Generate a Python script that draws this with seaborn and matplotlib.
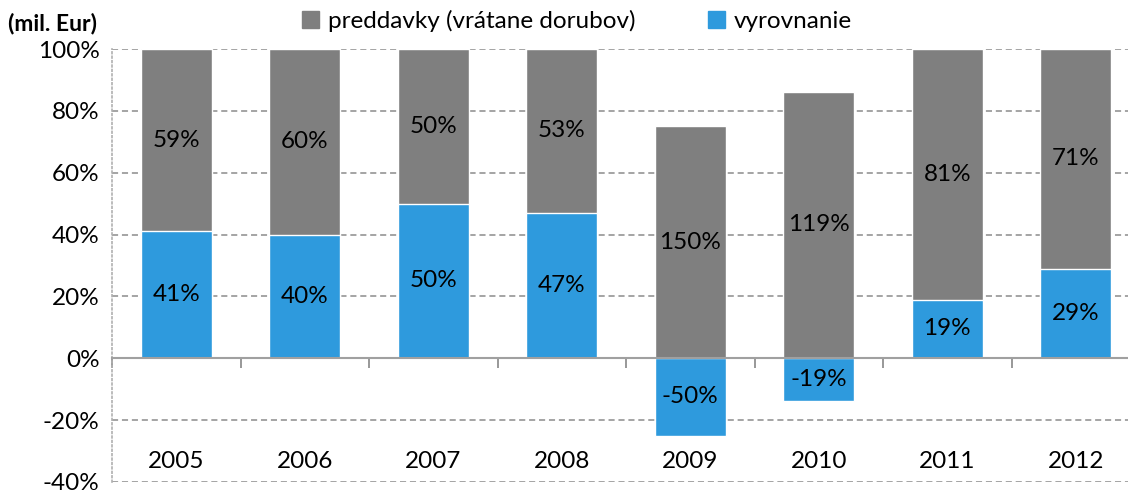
import seaborn as sns
import matplotlib.pyplot as plt
import pandas as pd
import numpy as np

# Данные
years = ['2005', '2006', '2007', '2008', '2009', '2010', '2011', '2012']
preddavky = [59, 60, 50, 53, 150, 119, 81, 71]  # preddavky (vrátane dorubov), %
vyrovnanie = [41, 40, 50, 47, -50, -19, 19, 29]  # vyrovnanie, %

grey = '#7f7f7f'
blue = '#2e9add'
fs = 17.5

# 100% skladaný graf ako v Exceli: výšky podľa súčtu absolútnych hodnôt
p = np.array(preddavky, dtype=float)
v = np.array(vyrovnanie, dtype=float)
total = np.abs(p) + np.abs(v)
v_h = v / total * 100
p_top = (p + np.clip(v, 0, None)) / total * 100

df = pd.DataFrame({'rok': years, 'p_top': p_top, 'v_h': v_h})

sns.set_style('white')
plt.rcParams['font.family'] = ['Lato', 'DejaVu Sans']
plt.rcParams['text.color'] = 'black'
plt.rcParams['xtick.color'] = 'black'
plt.rcParams['ytick.color'] = 'black'

fig = plt.figure(figsize=(11.28, 4.91), dpi=100)
ax = fig.add_axes([112 / 1128, 9 / 491, 1028 / 1128, 433 / 491])

sns.barplot(data=df, x='rok', y='p_top', color=grey, width=0.55, saturation=1, ax=ax, zorder=3)
sns.barplot(data=df, x='rok', y='v_h', color=blue, width=0.55, saturation=1, ax=ax, zorder=3)

# Popisky hodnôt
for i in range(len(years)):
    vb = v_h[i]
    pb = p_top[i]
    base = max(vb, 0)
    ax.text(i, (base + pb) / 2, f'{preddavky[i]}%', ha='center', va='center', fontsize=fs, zorder=5)
    ax.text(i, vb / 2, f'{vyrovnanie[i]}%', ha='center', va='center', fontsize=fs, zorder=5)

ax.set_xlim(-0.5, len(years) - 0.5)
ax.set_ylim(-40, 100)
ax.set_yticks(range(-40, 101, 20))
ax.set_yticklabels([f'{t}%' for t in range(-40, 101, 20)], fontsize=fs)
ax.tick_params(axis='y', length=0, pad=9)
ax.set_xlabel('')
ax.set_ylabel('')

# Mriežka
for t in range(-40, 101, 20):
    if t != 0:
        ax.axhline(t, color='#8c8c8c', lw=1.1, ls=(0, (4, 2.5)), zorder=1)

for s in ['top', 'right']:
    ax.spines[s].set_visible(False)
ax.spines['left'].set_color('#b0b0b0')
ax.spines['left'].set_linestyle(':')
ax.spines['left'].set_linewidth(1.2)
ax.spines['bottom'].set_position(('data', 0))
ax.spines['bottom'].set_color('#a0a0a0')
ax.spines['bottom'].set_linewidth(1.5)
ax.spines['bottom'].set_zorder(4)

ax.set_xticks(np.arange(len(years)) - 0.5, minor=True)
ax.tick_params(axis='x', which='minor', bottom=True, length=7, width=1.3, color='#909090', direction='out')
ax.tick_params(axis='x', which='major', bottom=True, length=0, pad=67, labelsize=fs)

# Legenda
handles = [plt.Rectangle((0, 0), 1, 1, color=grey), plt.Rectangle((0, 0), 1, 1, color=blue)]
fig.legend(handles, ['preddavky (vrátane dorubov)', 'vyrovnanie'], loc='center',
           bbox_to_anchor=(577 / 1128, 1 - 21 / 491), ncol=2, frameon=False, fontsize=fs,
           handlelength=0.7, handleheight=0.7, handletextpad=0.35, columnspacing=3.0)

fig.text(8 / 1128, 1 - 24 / 491, '(mil. Eur)', fontsize=16.5, fontweight='bold', va='center', ha='left')

plt.savefig('out.png', dpi=100)
